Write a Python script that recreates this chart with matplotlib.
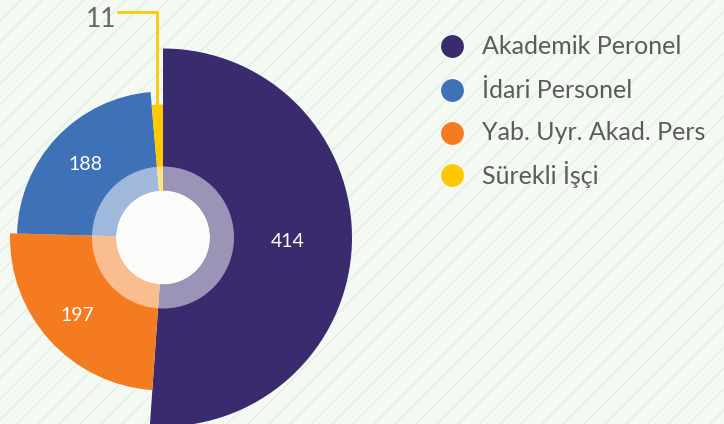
import numpy as np
import matplotlib
matplotlib.use("Agg")
from matplotlib import pyplot as plt
from matplotlib.patches import Wedge, Circle

# legend order
categories = ["Akademik Peronel", "İdari Personel", "Yab. Uyr. Akad. Pers", "Sürekli İşçi"]
values = [414, 188, 197, 11]
colors = ["#3a2a6e", "#3f71b7", "#f57b20", "#ffc901"]

# order of the slices round the pie (clockwise from 12 o'clock)
pie_order = [0, 2, 1, 3]
outer_r = {0: 189, 1: 146, 2: 153, 3: 133}   # each slice has its own radius
label_r = {0: 125, 1: 107, 2: 116}

W, H = 724, 424
cx, cy = 163, H - 237.5
bg = "#f4f9f4"

plt.rcParams["font.family"] = ["Lato", "DejaVu Sans"]

fig = plt.figure(figsize=(W / 100, H / 100), dpi=100, facecolor=bg)
ax = fig.add_axes([0, 0, 1, 1])
ax.set_facecolor(bg)

# diagonal pinstripes in the background
for c in range(-H, W + 21, 21):
    ax.plot([c, c + H], [0, H], color="#e0f0e0", lw=1, zorder=0)

vals = [values[i] for i in pie_order]
cols = [colors[i] for i in pie_order]
wedges, _ = ax.pie(vals, colors=cols, startangle=90, counterclock=False,
                   center=(cx, cy), radius=1, frame=True,
                   wedgeprops=dict(linewidth=0, zorder=2))
for w, i in zip(wedges, pie_order):
    w.set_radius(outer_r[i])

# pale inner ring and the white hole
ax.add_patch(Wedge((cx, cy), 71, 0, 360, width=24, facecolor="white",
                   alpha=0.5, lw=0, zorder=3))
ax.add_patch(Circle((cx, cy), 47, facecolor="#fbfcfa", lw=0, zorder=4))

# value labels
for w, i in zip(wedges, pie_order):
    ang = np.deg2rad((w.theta1 + w.theta2) / 2)
    if i in label_r:
        r = label_r[i]
        ax.text(cx + r * np.cos(ang), cy + r * np.sin(ang), str(values[i]),
                color="white", fontsize=14, ha="center", va="center", zorder=5)
    else:
        # small slice: leader line up to a label above the pie
        x0 = cx + outer_r[i] * np.cos(ang)
        y0 = cy + outer_r[i] * np.sin(ang)
        ytop = H - 12
        ax.plot([x0, x0, 118], [y0, ytop, ytop], color=colors[i], lw=2,
                solid_joinstyle="miter", zorder=1)
        ax.text(116, H - 27, str(values[i]), color="#666666", fontsize=19,
                ha="right", va="baseline", zorder=5)

# legend
leg_y = [H - 46, H - 90, H - 133, H - 175]
for name, col, y in zip(categories, colors, leg_y):
    ax.scatter([452], [y], s=270, color=col, lw=0, zorder=5)
    ax.text(482, y, name, color="#5b5b5b", fontsize=18, ha="left",
            va="center", zorder=5)

ax.set_xlim(0, W)
ax.set_ylim(0, H)
ax.set_aspect("auto")
ax.axis("off")

fig.savefig("out.png", dpi=100, facecolor=bg)
